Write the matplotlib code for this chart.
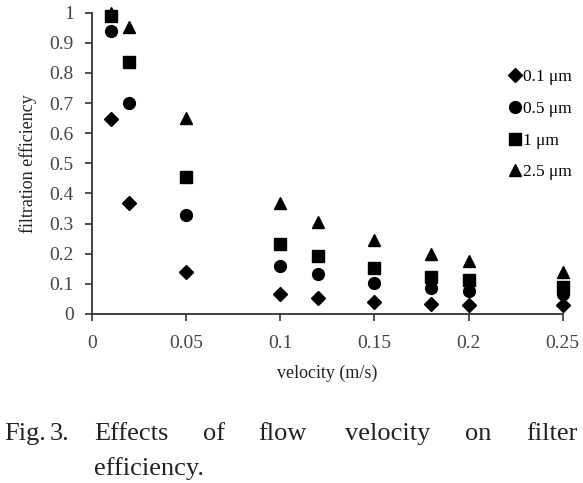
import numpy as np
import matplotlib.pyplot as plt

plt.rcParams['font.family'] = ['Liberation Serif', 'DejaVu Serif']

velocity = [0.01, 0.02, 0.05, 0.1, 0.12, 0.15, 0.18, 0.2, 0.25]
eff_01 = [0.648, 0.368, 0.14, 0.065, 0.052, 0.041, 0.033, 0.030, 0.030]
eff_05 = [0.938, 0.70, 0.329, 0.16, 0.132, 0.104, 0.085, 0.076, 0.068]
eff_1 = [0.988, 0.838, 0.454, 0.232, 0.193, 0.152, 0.124, 0.113, 0.09]
eff_25 = [1.0, 0.954, 0.65, 0.368, 0.307, 0.244, 0.199, 0.176, 0.14]

labels = ['0.1 \u03bcm', '0.5 \u03bcm', '1 \u03bcm', '2.5 \u03bcm']
xticks = [0, 0.05, 0.1, 0.15, 0.2, 0.25]
yticks = [0, 0.1, 0.2, 0.3, 0.4, 0.5, 0.6, 0.7, 0.8, 0.9, 1]

fig = plt.figure(figsize=(5.83, 4.83), dpi=100)
ax = fig.add_axes([91.7/583, 1 - 314/483, (562.7 - 91.7)/583, (314 - 12.7)/483])

ax.plot(velocity, eff_01, 'D', color='black', ms=7, label=labels[0], clip_on=False)
ax.plot(velocity, eff_05, 'o', color='black', ms=8.5, label=labels[1], clip_on=False)
ax.plot(velocity, eff_1, 's', color='black', ms=8, label=labels[2], clip_on=False)
ax.plot(velocity, eff_25, '^', color='black', ms=9, label=labels[3], clip_on=False)

ax.set_xlim(0, 0.25)
ax.set_ylim(0, 1)
ax.set_xticks(xticks)
ax.set_xticklabels(['0', '0.05', '0.1', '0.15', '0.2', '0.25'])
ax.set_yticks(yticks)
ax.set_yticklabels(['0', '0.1', '0.2', '0.3', '0.4', '0.5', '0.6', '0.7', '0.8', '0.9', '1'])
ax.tick_params(direction='out', length=5, width=1.2, color='#333333',
               labelsize=14, labelcolor='#444444')
ax.tick_params(axis='x', pad=10)
ax.tick_params(axis='y', pad=8)
for s in ['top', 'right']:
    ax.spines[s].set_visible(False)
for s in ['left', 'bottom']:
    ax.spines[s].set_linewidth(1.3)
    ax.spines[s].set_color('#333333')

ax.set_xlabel('velocity (m/s)', fontsize=13, color='#222222', labelpad=9)
ax.set_ylabel('filtration efficiency', fontsize=13, color='#222222', labelpad=9)

ax.legend(loc='upper left', bbox_to_anchor=(510/583, 1 - 69/483),
          bbox_transform=fig.transFigure, frameon=False, fontsize=12.5,
          handlelength=0.6, handletextpad=0.15, labelspacing=0.9,
          borderpad=0, borderaxespad=0)

# caption, justified by hand
cap = dict(fontsize=19, color='#222222', va='baseline')
y1 = 1 - 440/483
y2 = 1 - 475/483
fig.text(4/583, y1, 'Fig.', **cap)
fig.text(50/583, y1, '3.', **cap)
fig.text(94/583, y1, 'Effects', **cap)
fig.text(203/583, y1, 'of', **cap)
fig.text(258/583, y1, 'flow', **cap)
fig.text(345/583, y1, 'velocity', **cap)
fig.text(465/583, y1, 'on', **cap)
fig.text(578/583, y1, 'filter', ha='right', **cap)
fig.text(94/583, y2, 'efficiency.', **cap)

fig.savefig('out.png', dpi=100)
